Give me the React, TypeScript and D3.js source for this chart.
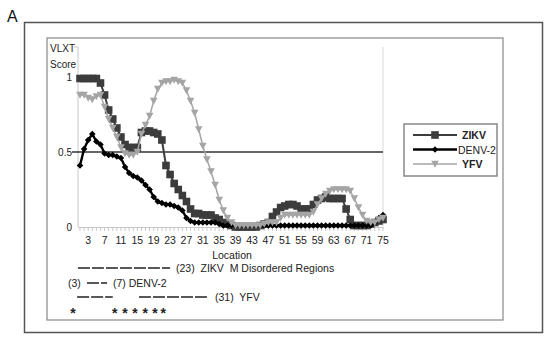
import React from 'react';
import * as d3 from 'd3';

// VLXT disorder scores per residue location (1..75)
const locations = d3.range(1, 76);

const zikv = [
  0.99, 0.99, 0.99, 0.99, 0.99, 0.96, 0.88, 0.78, 0.72, 0.66,
  0.6, 0.55, 0.53, 0.53, 0.53, 0.63, 0.64, 0.64, 0.63, 0.62,
  0.58, 0.41, 0.35, 0.29, 0.25, 0.21, 0.17, 0.12, 0.09, 0.09,
  0.08, 0.08, 0.08, 0.06, 0.05, 0.03, 0.02, 0.01, 0, 0,
  0, 0, 0, 0, 0.01, 0.02, 0.03, 0.07, 0.1, 0.13,
  0.14, 0.15, 0.15, 0.14, 0.12, 0.12, 0.12, 0.15, 0.18, 0.19,
  0.2, 0.19, 0.19, 0.19, 0.19, 0.12, 0.05, 0.01, 0.01, 0.01,
  0.01, 0.02, 0.03, 0.04, 0.05
];

const denv2 = [
  0.41, 0.52, 0.58, 0.62, 0.57, 0.55, 0.49, 0.48, 0.48, 0.47,
  0.46, 0.4, 0.36, 0.34, 0.33, 0.31, 0.28, 0.25, 0.2, 0.17,
  0.16, 0.15, 0.15, 0.14, 0.13, 0.11, 0.06, 0.04, 0.03, 0.03,
  0.03, 0.03, 0.03, 0.03, 0.02, 0.01, 0.01, 0.01, 0.01, 0.01,
  0.01, 0.01, 0.01, 0.01, 0.01, 0.01, 0.01, 0.01, 0.01, 0.01,
  0.01, 0.01, 0.01, 0.01, 0.01, 0.01, 0.01, 0.01, 0.01, 0.01,
  0.01, 0.01, 0.01, 0.01, 0.01, 0.01, 0.01, 0.01, 0.01, 0.01,
  0.01, 0.01, 0.03, 0.06, 0.08
];

const yfv = [
  0.88, 0.88, 0.86, 0.85, 0.87, 0.88, 0.8, 0.72, 0.66, 0.6,
  0.53, 0.49, 0.48, 0.48, 0.5, 0.62, 0.68, 0.74, 0.84, 0.92,
  0.96, 0.97, 0.97, 0.98, 0.97, 0.96, 0.91, 0.84, 0.76, 0.65,
  0.54, 0.45, 0.37, 0.28, 0.18, 0.11, 0.06, 0.03, 0.01, 0.01,
  0.01, 0.01, 0.01, 0.01, 0.01, 0.02, 0.03, 0.03, 0.03, 0.06,
  0.08, 0.08, 0.08, 0.08, 0.08, 0.08, 0.08, 0.1, 0.15, 0.19,
  0.22, 0.24, 0.25, 0.25, 0.25, 0.25, 0.24, 0.19, 0.13, 0.08,
  0.04, 0.03, 0.03, 0.05, 0.06
];

const xTickLabels = d3.range(3, 76, 4);
const yTickLabels = [0, 0.5, 1];

// disordered regions drawn under the chart (location ranges)
const zikvRegions = [[0.5, 23]];
const denvRegions = [[2.7, 7.6]];
const yfvRegions = [[0.3, 9], [15.4, 32]];
const starLocs = [-0.7, 9.5, 12, 14.4, 16.9, 19.3, 21.3];

const x = d3.scaleLinear().domain([1, 75]).range([80, 383]);
const y = d3.scaleLinear().domain([0, 1.2]).range([227, 47]);

const series = [
  { name: 'ZIKV', values: zikv, color: '#3c3c3c', width: 2, marker: 'square' },
  { name: 'DENV-2', values: denv2, color: '#000', width: 2.4, marker: 'diamond' },
  { name: 'YFV', values: yfv, color: '#a5a5a5', width: 1.5, marker: 'triangle' }
];

const line = d3.line<number>()
  .x((d, i) => x(locations[i]))
  .y(d => y(d));

function Marker({ type, cx, cy, color }) {
  if (type === 'square') {
    return <rect x={cx - 3.8} y={cy - 3.8} width={7.6} height={7.6} fill={color} />;
  }
  if (type === 'diamond') {
    return <path d={`M${cx},${cy - 3.3}L${cx + 3.3},${cy}L${cx},${cy + 3.3}L${cx - 3.3},${cy}Z`} fill={color} />;
  }
  return <path d={`M${cx - 3.8},${cy - 3.2}L${cx + 3.8},${cy - 3.2}L${cx},${cy + 3.8}Z`} fill={color} />;
}

function Dashes({ regions, yPos }) {
  return (
    <g>
      {regions.map((r, i) => (
        <line key={i} x1={x(r[0])} x2={x(r[1])} y1={yPos} y2={yPos}
          stroke="#222" strokeWidth={1.6} strokeDasharray="12,2" />
      ))}
    </g>
  );
}

export default function App() {
  const font = 'Liberation Sans, Arial, sans-serif';
  return (
    <svg width={550} height={341} style={{ position: 'absolute', left: 0, top: 0, background: '#fff' }}
      fontFamily={font}>
      <text x={7} y={22} fontSize={16} fill="#111">A</text>
      <rect x={24.5} y={22.5} width={518} height={310} fill="none" stroke="#555" strokeWidth={1.5} />
      <rect x={47} y={38} width={456} height={282} fill="none" stroke="#888" strokeWidth={1.2} />

      {/* axes */}
      <line x1={78} x2={78} y1={47} y2={227} stroke="#c8c8c8" />
      <line x1={383} x2={383} y1={47} y2={227} stroke="#d8d8d8" />
      <line x1={74} x2={78} y1={47} y2={47} stroke="#c8c8c8" />
      <line x1={78} x2={383} y1={227.5} y2={227.5} stroke="#c8c8c8" />
      {locations.map(l => (
        <line key={l} x1={x(l)} x2={x(l)} y1={227} y2={231} stroke="#c8c8c8" />
      ))}
      <line x1={72} x2={383} y1={y(0.5)} y2={y(0.5)} stroke="#333" strokeWidth={1.3} />

      <text x={50} y={52} fontSize={10} fill="#222">VLXT</text>
      <text x={50} y={68} fontSize={10} fill="#222">Score</text>
      {yTickLabels.map(v => (
        <text key={v} x={72} y={y(v) + 4} fontSize={10} textAnchor="end" fill="#222">{v}</text>
      ))}
      {xTickLabels.map(v => (
        <text key={v} x={x(v)} y={244} fontSize={10.5} textAnchor="middle" fill="#222">{v}</text>
      ))}
      <text x={232} y={259} fontSize={10.5} textAnchor="middle" fill="#222">Location</text>

      {/* series */}
      {series.map(s => (
        <g key={s.name}>
          <path d={line(s.values)} fill="none" stroke={s.color} strokeWidth={s.width} />
          {s.values.map((v, i) => (
            <Marker key={i} type={s.marker} cx={x(locations[i])} cy={y(v)} color={s.color} />
          ))}
        </g>
      ))}

      {/* legend */}
      <rect x={404} y={124} width={93} height={52} fill="#fff" stroke="#888" strokeWidth={1.5} />
      {series.map((s, i) => {
        const ly = 135 + i * 14.5;
        return (
          <g key={s.name}>
            <line x1={413} x2={457} y1={ly} y2={ly} stroke={s.color} strokeWidth={s.width} />
            <Marker type={s.marker} cx={435} cy={ly} color={s.color} />
            <text x={s.name === 'DENV-2' ? 458 : 462} y={ly + 4} fontSize={10.5}
              fontWeight={s.name === 'DENV-2' ? 'normal' : 'bold'} fill="#222">{s.name}</text>
          </g>
        );
      })}

      {/* disordered regions */}
      <Dashes regions={zikvRegions} yPos={268} />
      <text x={176} y={272} fontSize={10.5} fill="#222" xmlSpace="preserve">(23)  ZIKV  M Disordered Regions</text>
      <text x={68} y={287} fontSize={10.5} fill="#222">(3)</text>
      <Dashes regions={denvRegions} yPos={283} />
      <text x={113} y={287} fontSize={10.5} fill="#222">(7) DENV-2</text>
      <Dashes regions={yfvRegions} yPos={297} />
      <text x={215} y={301} fontSize={10.5} fill="#222" xmlSpace="preserve">(31)  YFV</text>
      {starLocs.map((l, i) => (
        <text key={i} x={x(l)} y={318} fontSize={14} fontWeight="bold" textAnchor="middle" fill="#222">*</text>
      ))}
    </svg>
  );
}
